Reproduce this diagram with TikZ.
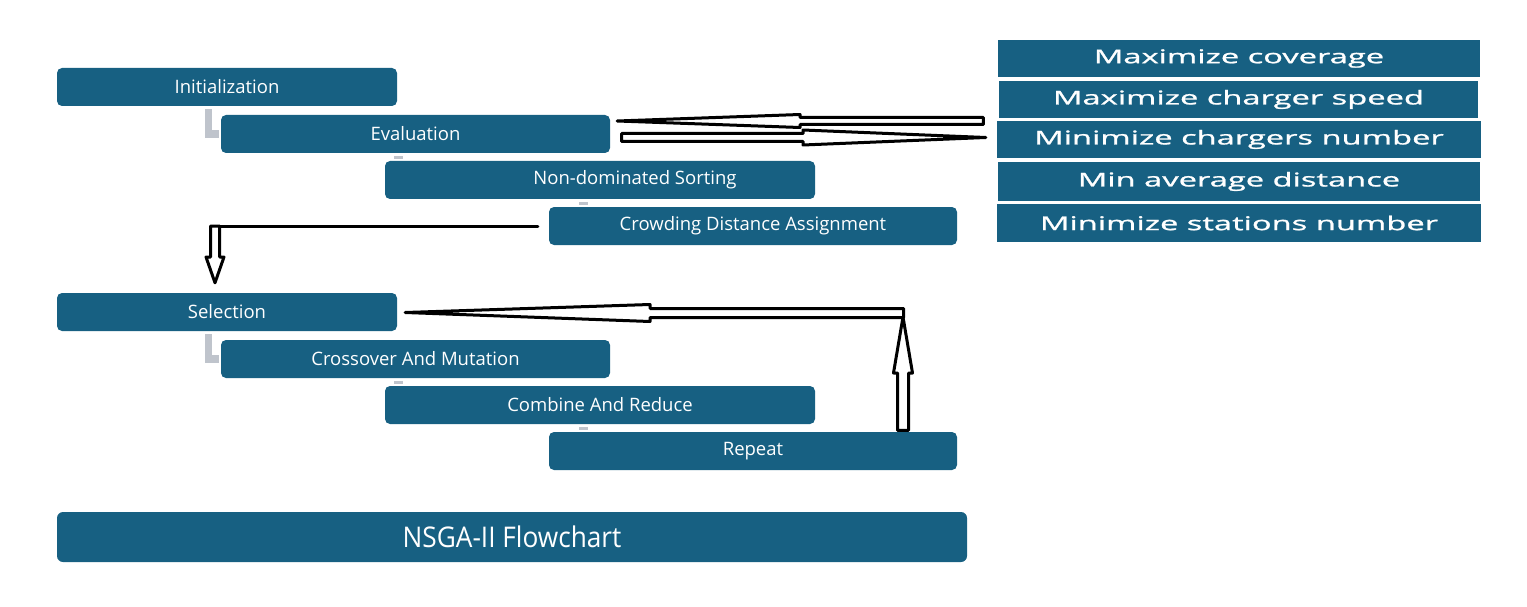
\documentclass[tikz,border=0pt]{standalone}
\usepackage{fontspec}
\setmainfont{Open Sans}
\newfontfamily\widefont[FakeStretch=1.72,FakeBold=1.2]{Open Sans}
\newfontfamily\narrowfont[FakeStretch=0.92]{Open Sans}
\usetikzlibrary{calc}
\definecolor{boxblue}{RGB}{23,96,130}
\definecolor{linkgray}{RGB}{191,196,204}
\tikzset{
  flowbox/.style={fill=boxblue, rounded corners=5pt, inner sep=0pt, text=white,
    font=\fontsize{18.5}{20}\selectfont},
  objbox/.style={fill=boxblue, inner sep=0pt, text=white,
    font=\widefont\fontsize{19}{21}\selectfont},
  titlebox/.style={fill=boxblue, rounded corners=6pt, inner sep=0pt, text=white,
    font=\narrowfont\fontsize{28.5}{30}\selectfont},
  blockarrow/.style={draw=black, fill=white, line width=3pt, line join=round},
  plainline/.style={draw=black, line width=3pt, line cap=round},
  graylink/.style={fill=linkgray}
}
\begin{document}
\begin{tikzpicture}[x=1pt,y=-1pt]
\useasboundingbox (0,0) rectangle (1527,607);
% flow boxes
\node[flowbox, minimum width=340pt, minimum height=38pt] (init) at (227,87) {Initialization};
\node[flowbox, minimum width=389pt, minimum height=38pt] (eval) at (415.5,134) {Evaluation};
\node[flowbox, minimum width=430pt, minimum height=38pt] (nds) at (600,180) {};
\node[text=white, font=\fontsize{18.5}{20}\selectfont, inner sep=0pt] (ndstext) at (635,180) {Non-dominated Sorting};
\node[flowbox, minimum width=408pt, minimum height=38pt] (crowd) at (753,226) {Crowding Distance Assignment};
\node[flowbox, minimum width=340pt, minimum height=38pt] (sel) at (227,312) {Selection};
\node[flowbox, minimum width=389pt, minimum height=38pt] (cross) at (415.5,359) {Crossover And Mutation};
\node[flowbox, minimum width=430pt, minimum height=38pt] (comb) at (600,405) {Combine And Reduce};
\node[flowbox, minimum width=408pt, minimum height=38pt] (rep) at (753,451) {Repeat};
\node[titlebox, minimum width=910pt, minimum height=50pt] (title) at (512,537) {NSGA-II Flowchart};
% objective boxes
\node[objbox, minimum width=482pt, minimum height=37pt] (o1) at (1239,58.5) {Maximize coverage};
\node[objbox, minimum width=479pt, minimum height=37pt] (o2) at (1238.5,99.5) {Maximize charger speed};
\node[objbox, minimum width=484pt, minimum height=37pt] (o3) at (1239,139.5) {Minimize chargers number};
\node[objbox, minimum width=482pt, minimum height=39pt] (o4) at (1239,181.5) {Min average distance};
\node[objbox, minimum width=484pt, minimum height=38pt] (o5) at (1239,223) {Minimize stations number};
% gray links (upper group)
\fill[graylink] (205,109) rectangle (212,138);
\fill[graylink] (205,130) rectangle (219,138);
\fill[graylink] (394,156) rectangle (403,159);
\fill[graylink] (579,202) rectangle (588,205);
% gray links (lower group)
\fill[graylink] (205,334) rectangle (212,363);
\fill[graylink] (205,355) rectangle (219,363);
\fill[graylink] (394,381) rectangle (403,384);
\fill[graylink] (579,427) rectangle (588,430);
% Evaluation <-> objectives
\coordinate (a1tip) at ($(eval.east)+(7,-13)$);
\coordinate (a1base) at (800,121);
\coordinate (a1tail) at ($(o3.west)+(-13.5,-18.5)$);
\draw[blockarrow] (a1tip) -- ($(a1base)+(0,6.5)$) -- ($(a1base)+(0,3.5)$) -- ($(a1tail)+(0,3.5)$)
  -- ($(a1tail)+(0,-3.5)$) -- ($(a1base)+(0,-3.5)$) -- ($(a1base)+(0,-6.5)$) -- cycle;
\coordinate (a2tail) at ($(eval.east)+(11.5,3.5)$);
\coordinate (a2base) at (803,137.5);
\coordinate (a2tip) at ($(o3.west)+(-11,-2)$);
\draw[blockarrow] (a2tip) -- ($(a2base)+(0,7.5)$) -- ($(a2base)+(0,4)$) -- ($(a2tail)+(0,4)$)
  -- ($(a2tail)+(0,-4)$) -- ($(a2base)+(0,-4)$) -- ($(a2base)+(0,-7.5)$) -- cycle;
% Crowding -> Selection
\coordinate (c1start) at ($(crowd.west)+(-11,0)$);
\coordinate (c1corner) at (215,226);
\coordinate (c1tip) at ($(sel.north)+(-12,-10)$);
\coordinate (c1base) at (215,257);
\draw[plainline] (c1start) -- (210.5,226);
\draw[blockarrow] (c1tip) -- ($(c1base)+(-9,0)$) -- ($(c1base)+(-4.5,0)$) -- ($(c1corner)+(-4.5,0)$)
  -- ($(c1corner)+(4.5,0)$) -- ($(c1base)+(4.5,0)$) -- ($(c1base)+(9,0)$) -- cycle;
% Repeat -> Selection
\coordinate (r1bottom) at ($(rep.north)+(150,-1.5)$);
\coordinate (r1base) at (903,373);
\coordinate (r1tip) at (903,317);
\draw[blockarrow] (r1tip) -- ($(r1base)+(-9.5,0)$) -- ($(r1base)+(-5.5,0)$) -- ($(r1bottom)+(-5.5,0)$)
  -- ($(r1bottom)+(5.5,0)$) -- ($(r1base)+(5.5,0)$) -- ($(r1base)+(9.5,0)$) -- cycle;
\coordinate (r2tail) at (903.5,313);
\coordinate (r2base) at (650,313);
\coordinate (r2tip) at ($(sel.east)+(8,0.5)$);
\draw[blockarrow] (r2tip) -- ($(r2base)+(0,8.5)$) -- ($(r2base)+(0,4.5)$) -- ($(r2tail)+(0,4.5)$)
  -- ($(r2tail)+(0,-4.5)$) -- ($(r2base)+(0,-4.5)$) -- ($(r2base)+(0,-8.5)$) -- cycle;
\end{tikzpicture}
\end{document}
